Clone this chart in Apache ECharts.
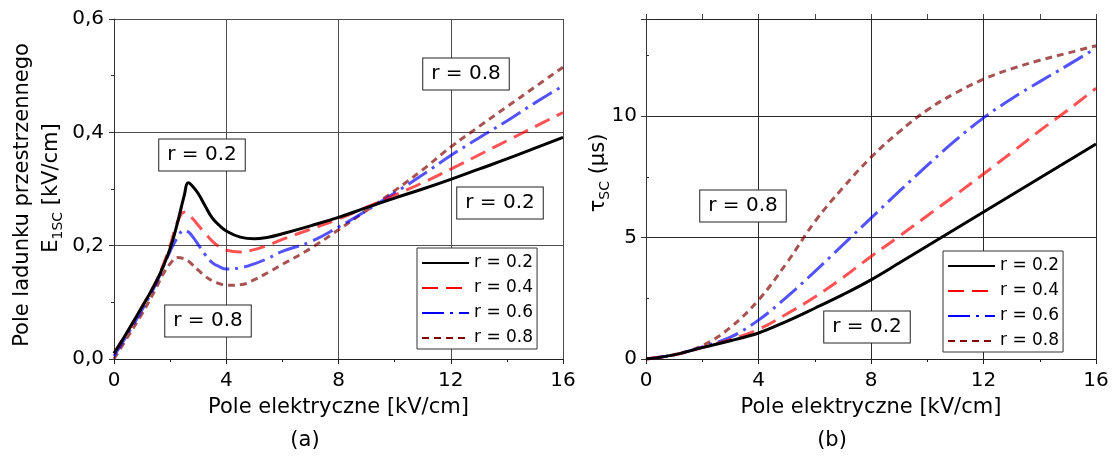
<!DOCTYPE html>
<html><head><meta charset="utf-8">
<script src="https://cdn.jsdelivr.net/npm/echarts@6/dist/echarts.min.js"></script>
<style>html,body{margin:0;padding:0;background:#fff}#c{width:1116px;height:456px}</style>
</head><body><div id="c"></div>
<script>
// ---- data ----
const seriesNames = ['r = 0.2', 'r = 0.4', 'r = 0.6', 'r = 0.8'];
// panel (a): space-charge field E1SC [kV/cm] vs electric field [kV/cm]
const xLeft = [0,0.5,1,1.5,1.75,2,2.25,2.5,2.65,2.8,3,3.25,3.5,3.75,4,4.5,5,5.5,6,7,8,9,10,11,12,13,14,15,16];
const e1scR02 = [0.01,0.05,0.092,0.136,0.163,0.195,0.238,0.288,0.311,0.305,0.292,0.27,0.249,0.236,0.226,0.215,0.212,0.215,0.221,0.235,0.25,0.267,0.284,0.3,0.317,0.335,0.353,0.372,0.391];
const e1scR04 = [0.01,0.05,0.092,0.137,0.166,0.2,0.24,0.259,0.255,0.248,0.236,0.222,0.208,0.198,0.192,0.189,0.193,0.201,0.211,0.229,0.247,0.268,0.289,0.311,0.335,0.36,0.385,0.41,0.435];
const e1scR06 = [0.005,0.045,0.087,0.133,0.162,0.19,0.213,0.227,0.224,0.216,0.202,0.184,0.17,0.163,0.159,0.161,0.168,0.178,0.19,0.207,0.233,0.262,0.293,0.325,0.359,0.39,0.42,0.452,0.482];
const e1scR08 = [0.0,0.04,0.08,0.125,0.15,0.168,0.179,0.177,0.173,0.166,0.157,0.146,0.138,0.133,0.13,0.131,0.14,0.153,0.167,0.195,0.228,0.262,0.297,0.334,0.374,0.41,0.445,0.48,0.515];
// panel (b): tau_SC [us] vs electric field [kV/cm]
const xRight = [0,1,2,3,4,5,6,7,8,9,10,11,12,13,14,15,16];
const tauR02 = [0,0.17,0.47,0.75,1.07,1.55,2.09,2.65,3.26,3.95,4.65,5.35,6.05,6.75,7.45,8.15,8.85];
const tauR04 = [0,0.17,0.47,0.8,1.22,1.85,2.55,3.35,4.22,5.05,5.9,6.75,7.62,8.5,9.4,10.25,11.15];
const tauR06 = [0,0.17,0.5,0.9,1.6,2.55,3.6,4.7,5.8,6.9,7.97,9.0,9.93,10.72,11.42,12.1,12.8];
const tauR08 = [0,0.18,0.55,1.3,2.43,3.95,5.65,7.05,8.3,9.35,10.25,10.95,11.52,11.95,12.3,12.6,12.9];
const leftTickLabels = {0:'0,0', 0.2:'0,2', 0.4:'0,4', 0.6:'0,6'};
const rightTickLabels = {0:'0', 5:'5', 10:'10'};
const annotLabels = ['r = 0.2', 'r = 0.8', 'r = 0.8', 'r = 0.2', 'r = 0.8', 'r = 0.2'];

// ---- style ----
const FONT = '"DejaVu Sans", sans-serif';
const styles = [
  {color:'#000000', type:'solid', width:3, opacity:1},
  {color:'#ff0000', type:[16,8], width:3, opacity:0.68},
  {color:'#0000ff', type:[22,6,3,6], width:3, opacity:0.68},
  {color:'#800000', type:[7,5], width:3, opacity:0.68}
];
const leftVals = [e1scR02, e1scR04, e1scR06, e1scR08];
const rightVals = [tauR02, tauR04, tauR06, tauR08];
const zip = (xs, ys) => xs.map((x, i) => [x, ys[i]]);

const series = [];
for (let i = 3; i >= 0; i--) {
  const ls = {color: styles[i].color, type: styles[i].type, width: styles[i].width, opacity: styles[i].opacity, cap: 'butt'};
  series.push({type:'line', name: seriesNames[i], xAxisIndex:0, yAxisIndex:0, data: zip(xLeft, leftVals[i]),
    smooth: 0.45, symbol:'none', showSymbol:false, lineStyle: ls, itemStyle:{color: styles[i].color}, z: 5 + (3 - i)});
  series.push({type:'line', name: seriesNames[i], xAxisIndex:1, yAxisIndex:1, data: zip(xRight, rightVals[i]),
    smooth: 0.4, symbol:'none', showSymbol:false, lineStyle: ls, itemStyle:{color: styles[i].color}, z: 5 + (3 - i)});
}

const labelStyle = {fontFamily: FONT, fontSize: 20, color: '#000'};
function xAx(grid, gridColor) {
  return {type:'value', gridIndex: grid, min:0, max:16, interval:4,
    name:'Pole elektryczne [kV/cm]', nameLocation:'middle', nameGap:38,
    nameTextStyle:{fontFamily: FONT, fontSize: 21, color:'#000'},
    axisLine:{show:true, onZero:false, lineStyle:{color:'#222', width:1}},
    axisTick:{show:true, length:5, inside:false, lineStyle:{color:'#222'}},
    minorTick:{show:true, splitNumber:2, length:3, lineStyle:{color:'#222'}},
    axisLabel:Object.assign({margin:12}, labelStyle),
    splitLine:{show:true, lineStyle:{color: gridColor, width:1}}};
}

const option = {
  animation: false,
  backgroundColor: '#fff',
  grid: [
    {left:114, top:19, width:449, height:340},
    {left:646, top:19, width:450, height:340}
  ],
  xAxis: [
    xAx(0, '#4d4d4d'),
    xAx(1, '#2a2a2a'),
    {type:'value', gridIndex:1, position:'top', min:0, max:16, interval:2,
      axisLine:{show:true, onZero:false, lineStyle:{color:'#222'}},
      axisTick:{show:true, length:5, inside:false, lineStyle:{color:'#444'}},
      axisLabel:{show:false}, splitLine:{show:false}}
  ],
  yAxis: [
    {type:'value', gridIndex:0, min:0, max:0.6, interval:0.2,
      axisLine:{show:true, onZero:false, lineStyle:{color:'#333'}},
      axisTick:{show:true, length:5, lineStyle:{color:'#333'}},
      minorTick:{show:true, splitNumber:2, length:3, lineStyle:{color:'#333'}},
      axisLabel:Object.assign({margin:10, formatter: v => {
        const k = Math.round(v * 10) / 10; return leftTickLabels[k] !== undefined ? leftTickLabels[k] : ''; }}, labelStyle),
      splitLine:{show:true, lineStyle:{color:'#4d4d4d', width:1}}},
    {type:'value', gridIndex:1, min:0, max:14, interval:5,
      axisLine:{show:true, onZero:false, lineStyle:{color:'#333'}},
      axisTick:{show:true, length:5, lineStyle:{color:'#333'}},
      axisLabel:Object.assign({margin:9, formatter: v => rightTickLabels[v] !== undefined ? rightTickLabels[v] : ''}, labelStyle),
      splitLine:{show:true, lineStyle:{color:'#2a2a2a', width:1}}},
    {type:'value', gridIndex:1, min:0, max:14, interval:2.5,
      axisLine:{show:false}, axisTick:{show:true, length:3, lineStyle:{color:'#333'}},
      axisLabel:{show:false}, splitLine:{show:false}}
  ],
  legend: [0, 1].map(k => ({
    data: seriesNames, orient:'vertical', left: k === 0 ? 417 : 943, top: k === 0 ? 248 : 251,
    itemWidth:47, itemHeight:14, itemGap:5, padding:[5,4,1,4],
    borderColor:'#333', borderWidth:1, backgroundColor:'#fff', selectedMode:false,
    textStyle:{fontFamily: FONT, fontSize:17, lineHeight:20, color:'#000'},
    itemStyle:{opacity:0, borderWidth:0},
    lineStyle:{opacity:1}, z: 20
  })),
  series: series,
  graphic: []
};

const boxPos = [[202,155],[208,321],[466,74],[500,203],[743,206],[867,327]];
const g = option.graphic;
annotLabels.forEach((t, i) => {
  g.push({type:'text', x: boxPos[i][0], y: boxPos[i][1], z: 30,
    style:{text: t, font: '20px ' + FONT, fill:'#000', align:'center', verticalAlign:'middle',
      backgroundColor:'#fff', borderColor:'#222', borderWidth:1, padding:[6,8,5,8]}});
});
const rich = {
  a:{fontFamily: FONT, fontSize:21, lineHeight:26, verticalAlign:'middle', color:'#000'},
  s:{fontFamily: FONT, fontSize:14, verticalAlign:'bottom', color:'#000'}
};
g.push({type:'text', x:23, y:195, rotation:Math.PI/2,
  style:{text:'Pole ladunku przestrzennego', font:'21px ' + FONT, fill:'#000', align:'center', verticalAlign:'middle'}});
g.push({type:'text', x:52, y:188, rotation:Math.PI/2,
  style:{text:'{a|E}{s|1SC}{a| [kV/cm]}', rich: rich, align:'center', verticalAlign:'middle'}});
g.push({type:'text', x:599, y:173, rotation:Math.PI/2,
  style:{text:'{a|τ}{s|SC}{a| (µs)}', rich: rich, align:'center', verticalAlign:'middle'}});
g.push({type:'text', x:305, y:441, style:{text:'(a)', font:'21px ' + FONT, fill:'#000', align:'center', verticalAlign:'middle'}});
g.push({type:'text', x:832, y:441, style:{text:'(b)', font:'21px ' + FONT, fill:'#000', align:'center', verticalAlign:'middle'}});

const chart = echarts.init(document.getElementById('c'), null, {renderer:'canvas'});
chart.setOption(option);
</script></body></html>
